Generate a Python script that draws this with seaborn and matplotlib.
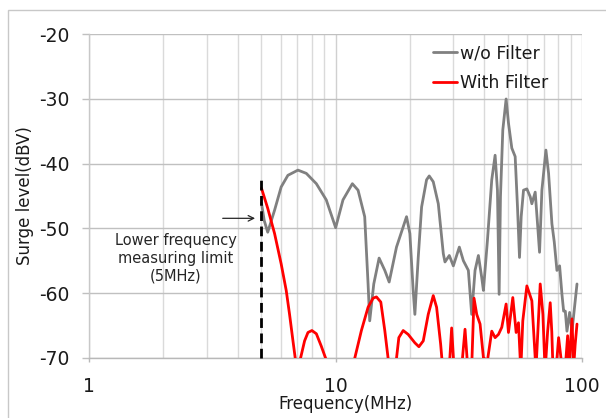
import numpy as np
import pandas as pd
import matplotlib
matplotlib.use("Agg")
import matplotlib.pyplot as plt
import seaborn as sns
from matplotlib.ticker import FixedLocator, NullFormatter
from matplotlib.patches import Rectangle

# ---------------- data ----------------
wo_freq = [5.0, 5.13, 5.30, 5.65, 6.01, 6.40, 7.03, 7.60, 8.35, 9.16, 10.0, 10.71,
           11.69, 12.33, 13.12, 13.54, 13.75, 14.28, 15.01, 15.83, 16.49, 17.66,
           19.40, 20.01, 20.64, 20.97, 21.64, 22.33, 23.39, 23.98, 24.90, 26.10,
           27.35, 27.78, 28.93, 30.04, 31.77, 32.99, 34.57, 35.66, 36.80, 37.97,
           39.17, 39.79, 41.31, 43.02, 44.39, 45.37, 46.09, 46.67, 47.70, 49.20,
           50.29, 51.89, 53.54, 54.72, 55.76, 56.64, 57.89, 59.73, 61.62, 62.58,
           64.57, 65.99, 67.25, 68.74, 71.37, 73.17, 75.49, 77.16, 79.11, 81.11,
           82.91, 84.22, 85.55, 86.89, 89.09, 91.06, 95.43]
wo_db = [-46.1, -48.8, -50.6, -47.2, -43.6, -41.8, -41.0, -41.5, -43.1, -45.6, -49.9, -45.6,
         -43.1, -44.1, -48.2, -58.6, -64.3, -58.6, -54.6, -56.5, -58.3, -52.9,
         -48.2, -50.8, -59.6, -63.3, -54.5, -46.7, -42.5, -41.9, -42.8, -46.2,
         -53.9, -55.2, -54.2, -55.8, -52.9, -55.0, -56.5, -63.3, -56.5, -54.2,
         -57.6, -59.6, -51.9, -42.5, -38.7, -44.1, -60.2, -45.1, -34.8, -30.0,
         -33.7, -37.6, -38.9, -46.7, -54.5, -48.2, -44.1, -43.9, -45.1, -46.2,
         -44.4, -49.3, -53.7, -44.1, -37.9, -41.5, -49.3, -52.1, -56.5, -55.8,
         -60.2, -62.8, -62.8, -65.9, -63.0, -65.9, -58.6]

with_freq = [5.0, 5.30, 5.65, 6.01, 6.30, 6.50, 6.71, 6.85, 6.95, 7.10, 7.20, 7.48,
             7.72, 8.01, 8.35, 8.74, 9.11, 9.30, 11.60, 11.95, 12.72, 13.54, 14.19,
             14.64, 15.25, 15.83, 16.33, 16.60, 17.40, 17.66, 18.05, 18.80, 19.70,
             20.97, 21.77, 22.68, 23.76, 24.90, 25.69, 26.68, 27.18,
             28.93, 29.57, 30.22, 32.47, 33.51, 34.36, 35.66,
             36.45, 37.38, 38.57, 39.80, 41.30, 43.02, 44.39, 45.80, 47.25, 49.20,
             50.29, 52.37, 54.03, 55.23, 56.10, 56.50, 57.50, 59.73, 62.58, 64.57,
             65.10, 67.67, 69.39, 70.47, 71.00, 72.50, 74.30, 75.40, 76.21, 78.62,
             80.35, 82.13, 82.80, 85.55, 87.44, 88.82, 91.06, 92.50, 93.80, 95.43]
with_db = [-43.8, -46.9, -50.8, -55.5, -59.6, -63.3, -67.4, -70.0, -72.0, -72.0, -70.1, -67.4,
           -66.1, -65.8, -66.3, -68.2, -70.1, -72.0, -72.0, -70.1, -65.8, -62.2, -60.8,
           -60.6, -61.4, -65.8, -70.1, -72.0, -72.0, -70.1, -66.9, -65.8, -66.4,
           -67.7, -68.3, -67.4, -63.3, -60.4, -62.2, -67.9, -71.5,
           -71.5, -65.4, -71.5, -71.5, -65.6, -71.5, -71.5,
           -60.8, -63.3, -64.8, -70.0, -70.5, -65.9, -66.9, -66.4, -65.3, -61.7,
           -66.1, -60.7, -66.1, -64.6, -70.0, -71.5, -64.3, -58.9, -61.2, -70.0,
           -71.5, -58.6, -63.3, -70.0, -71.5, -66.0, -61.5, -66.0, -71.5, -71.5,
           -66.9, -70.0, -71.5, -71.5, -66.6, -71.5, -64.0, -71.5, -68.0, -64.8]

y_ticks = [-20, -30, -40, -50, -60, -70]
x_ticks = [1, 10, 100]
x_tick_labels = ["1", "10", "100"]
series_names = ["w/o Filter", "With Filter"]
limit_freq = 5.0
limit_top = -42.5
note_text = "Lower frequency\nmeasuring limit\n(5MHz)"

# ---------------- styling ----------------
sns.set_style("white")
plt.rcParams["font.family"] = ["DejaVu Sans"]

W, H = 606, 418
fig = plt.figure(figsize=(W / 100, H / 100), dpi=100)
L, R, T, B = 89.3, 582, 34.3, 357.7
ax = fig.add_axes([L / W, 1 - B / H, (R - L) / W, (B - T) / H])

# outer chart frame
fig.patches.append(Rectangle((8 / W, -0.1), 1.2, 1 - 10 / H + 0.1, transform=fig.transFigure,
                             fill=False, edgecolor="#c8c8c8", lw=1.0, zorder=0))

df_wo = pd.DataFrame({"freq": wo_freq, "db": wo_db})
df_with = pd.DataFrame({"freq": with_freq, "db": with_db})

sns.lineplot(data=df_wo, x="freq", y="db", ax=ax, color="#808080", lw=2.0,
             label=series_names[0], estimator=None, sort=False, zorder=3)
sns.lineplot(data=df_with, x="freq", y="db", ax=ax, color="#ff0000", lw=2.0,
             label=series_names[1], estimator=None, sort=False, zorder=4)

ax.set_xscale("log")
ax.set_xlim(1, 100)
ax.set_ylim(-70, -20)

ax.xaxis.set_major_locator(FixedLocator(x_ticks))
ax.set_xticklabels(x_tick_labels)
minor = [m * d for d in (1, 10) for m in range(2, 10)]
ax.xaxis.set_minor_locator(FixedLocator(minor))
ax.xaxis.set_minor_formatter(NullFormatter())
ax.set_yticks(y_ticks)
ax.set_yticklabels([str(v) for v in y_ticks])

ax.grid(True, which="major", axis="y", color="#c0c0c0", lw=1.0)
ax.grid(True, which="major", axis="x", color="#d0d0d0", lw=1.0)
ax.grid(True, which="minor", axis="x", color="#dadada", lw=1.0)
ax.set_axisbelow(True)

for s in ["top", "right"]:
    ax.spines[s].set_visible(False)
ax.spines["left"].set_color("#c8c8c8")
ax.spines["bottom"].set_color("#b8b8b8")
ax.spines["left"].set_linewidth(1.0)
ax.spines["bottom"].set_linewidth(1.0)

ax.tick_params(axis="y", which="major", length=5, width=1, color="#c0c0c0",
               pad=9, labelsize=13.5, labelcolor="#1a1a1a", left=True, direction="out")
ax.tick_params(axis="x", which="major", length=3, width=1, color="#b8b8b8",
               pad=11, labelsize=13.5, labelcolor="#1a1a1a", bottom=True, direction="out")
ax.tick_params(axis="x", which="minor", length=0)

ax.set_xlabel("Frequency(MHz)", fontsize=12, color="#1a1a1a")
ax.set_ylabel("Surge level(dBV)", fontsize=12, color="#1a1a1a")
ax.xaxis.set_label_coords((346 - L) / (R - L), (B - 395) / (B - T))
ax.yaxis.set_label_coords((34 - L) / (R - L), 0.5)

# lower-frequency limit marker
ax.plot([limit_freq, limit_freq], [-70, limit_top], color="black", lw=2.0,
        dashes=(3.5, 2.0), zorder=5, clip_on=False)
ax.annotate("", xy=(4.71, -48.45), xytext=(3.48, -48.45),
            arrowprops=dict(arrowstyle="->", color="#262626", lw=0.9, shrinkA=0, shrinkB=0))
ax.text(2.25, -54.6, note_text, ha="center", va="center", fontsize=10.5,
        color="#262626", linespacing=1.25)

leg = ax.legend(loc="upper left", bbox_to_anchor=((432.7 - L) / (R - L), (B - 44.5) / (B - T)),
                frameon=False, handlelength=1.4, handletextpad=0.2, borderpad=0,
                borderaxespad=0, labelspacing=0.65, fontsize=12.5)
for t in leg.get_texts():
    t.set_color("#1a1a1a")

fig.savefig("out.png", dpi=100)
